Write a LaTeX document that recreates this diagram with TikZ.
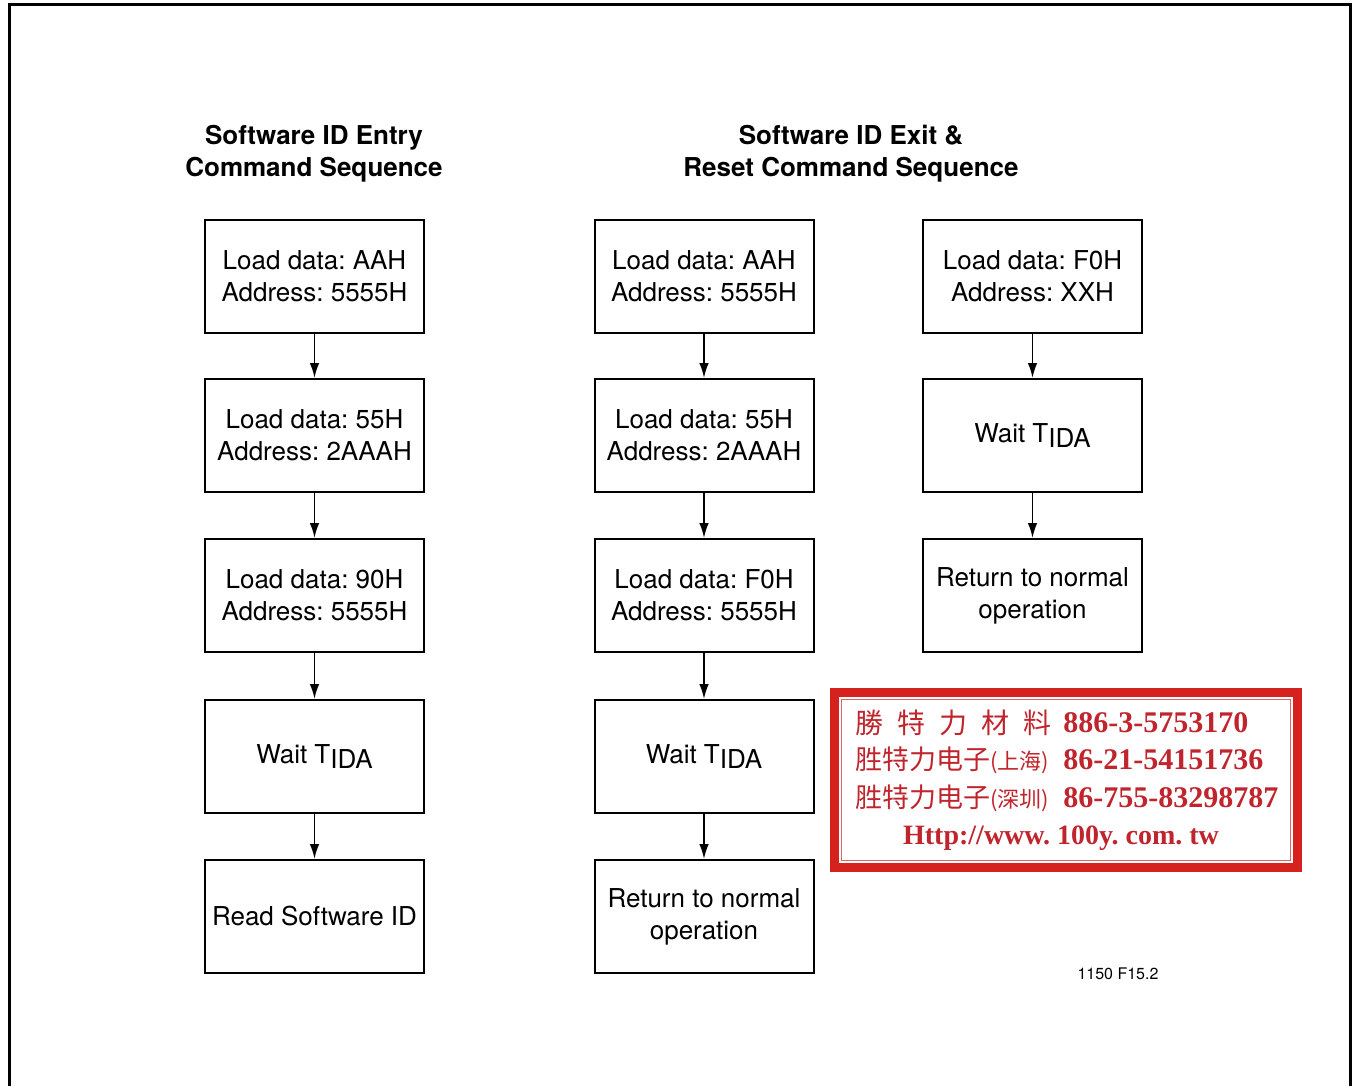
\documentclass[tikz,border=0pt]{standalone}
\usepackage{fontspec}
\setmainfont{TeX Gyre Heros}
\newfontfamily\cjk{Noto Sans CJK TC}
\newfontfamily\stampserif{Liberation Serif}
\usetikzlibrary{arrows.meta}
\frenchspacing
\definecolor{stampred}{RGB}{214,34,30}
\definecolor{inkred}{RGB}{192,36,44}
\newcommand\waittida{Wait T\raisebox{-2.5pt}{IDA}}
\tikzset{
  cmdbox/.style={draw, line width=1pt, minimum width=109.5pt, minimum height=56.5pt,
    inner sep=2pt, align=center, font=\fontsize{13}{16}\selectfont},
  flow/.style={line width=0.9pt, -{Latex[length=7.5pt,width=4.8pt]}},
  heading/.style={align=center, font=\fontsize{13}{16}\selectfont\bfseries},
  stampline/.style={anchor=west, inner sep=0pt, text=inkred},
}
\begin{document}
\begin{tikzpicture}[x=0.5pt,y=-0.5pt]
  \useasboundingbox (0,0) rectangle (1353,1086);
  \draw[line width=1.5pt] (9,1086) -- (9,5) -- (1350,5) -- (1350,1086);

  \node[heading] (t1) at (314,154) {Software ID Entry\\Command Sequence};
  \node[heading] (t2) at (851,154) {Software ID Exit \&\\Reset Command Sequence};

  % entry sequence
  \node[cmdbox] (e1) at (314.5,276.5) {Load data: AAH\\Address: 5555H};
  \node[cmdbox] (e2) at (314.5,435.5) {Load data: 55H\\Address: 2AAAH};
  \node[cmdbox] (e3) at (314.5,595.5) {Load data: 90H\\Address: 5555H};
  \node[cmdbox] (e4) at (314.5,756.5) {\waittida};
  \node[cmdbox] (e5) at (314.5,916.5) {Read Software ID};

  % exit sequence
  \node[cmdbox] (x1) at (704,276.5) {Load data: AAH\\Address: 5555H};
  \node[cmdbox] (x2) at (704,435.5) {Load data: 55H\\Address: 2AAAH};
  \node[cmdbox] (x3) at (704,595.5) {Load data: F0H\\Address: 5555H};
  \node[cmdbox] (x4) at (704,756.5) {\waittida};
  \node[cmdbox] (x5) at (704,916.5) {Return to normal\\operation};

  % reset sequence
  \node[cmdbox] (r1) at (1032.5,276.5) {Load data: F0H\\Address: XXH};
  \node[cmdbox] (r2) at (1032.5,435.5) {\waittida};
  \node[cmdbox] (r3) at (1032.5,595.5) {Return to normal\\operation};

  \draw[flow] (e1) -- (e2);
  \draw[flow] (e2) -- (e3);
  \draw[flow] (e3) -- (e4);
  \draw[flow] (e4) -- (e5);
  \draw[flow] (x1) -- (x2);
  \draw[flow] (x2) -- (x3);
  \draw[flow] (x3) -- (x4);
  \draw[flow] (x4) -- (x5);
  \draw[flow] (r1) -- (r2);
  \draw[flow] (r2) -- (r3);

  \node[font=\fontsize{8}{10}\selectfont] (fig) at (1118,974) {1150 F15.2};

  % stamp
  \draw[stampred, line width=4.5pt] (834,692) rectangle (1297,867);
  \draw[stampred!70, line width=0.5pt] (841,699) rectangle (1290,860);
  \node[stampline, font=\cjk\fontsize{14}{14}\selectfont] (s1) at (855,723)
    {勝\hspace{7pt}特\hspace{7pt}力\hspace{7pt}材\hspace{7pt}料};
  \node[stampline, font=\stampserif\bfseries\fontsize{15}{15}\selectfont] (p1) at (1063,723) {886-3-5753170};
  \node[stampline, font=\cjk\fontsize{13.5}{14}\selectfont] (s2) at (855,760)
    {胜特力电子{\fontsize{11}{11}\selectfont(上海)}};
  \node[stampline, font=\stampserif\bfseries\fontsize{15}{15}\selectfont] (p2) at (1063,760) {86-21-54151736};
  \node[stampline, font=\cjk\fontsize{13.5}{14}\selectfont] (s3) at (855,798)
    {胜特力电子{\fontsize{11}{11}\selectfont(深圳)}};
  \node[stampline, font=\stampserif\bfseries\fontsize{15}{15}\selectfont] (p3) at (1063,798) {86-755-83298787};
  \node[text=inkred, inner sep=0pt, font=\stampserif\bfseries\fontsize{14}{14}\selectfont] (url) at (1061,838)
    {Http://www. 100y. com. tw};
\end{tikzpicture}
\end{document}
